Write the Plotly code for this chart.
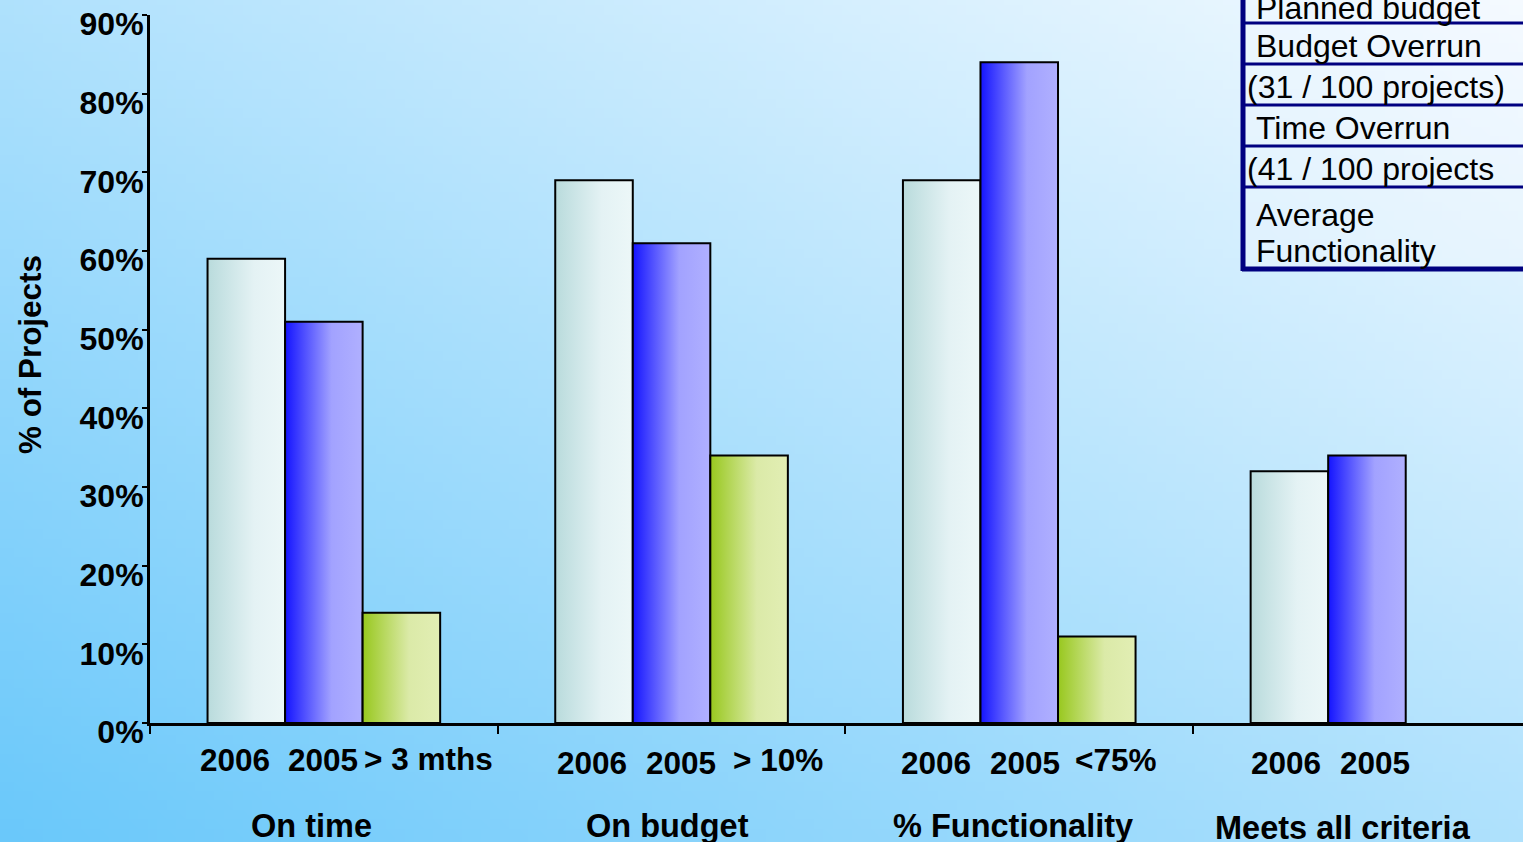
import base64, struct, zlib
import plotly.graph_objects as go

# ---------------- data ----------------
categories = ["On time", "On budget", "% Functionality", "Meets all criteria"]
series_names = ["2006", "2005", "third"]
vals_2006 = [0.59, 0.69, 0.69, 0.32]
vals_2005 = [0.51, 0.61, 0.84, 0.34]
vals_third = [0.14, 0.34, 0.11, None]
third_labels = ["> 3 mths", "> 10%", "<75%", None]
y_ticks = [0, 0.1, 0.2, 0.3, 0.4, 0.5, 0.6, 0.7, 0.8, 0.9]
legend_lines = ["Planned budget", "Budget Overrun", "(31 / 100 projects)",
                "Time Overrun", "(41 / 100 projects", "Average", "Functionality"]

# ---------------- geometry / styles ----------------
W, H = 1523, 842
PL, PR, PT, PB = 150, 1523, 15, 723
GROUP_PX = 347.7
BAR_W = 0.223
FONT = "Liberation Sans, Arial, sans-serif"

def px(x):
    return (x - PL) / (PR - PL)

def py(y):
    return (PB - y) / (PB - PT)

scales = [
    [[0, "#b9dbdc"], [0.6, "#e4f2f4"], [1, "#ecf7f8"]],
    [[0, "#1414ff"], [0.6, "#a2a2ff"], [1, "#b0b0ff"]],
    [[0, "#98c81e"], [0.6, "#dbeaa8"], [1, "#e2eeb4"]],
]

# ---------------- background gradient png ----------------
def make_png(w, h, c0, c1):
    raw = bytearray()
    for j in range(h):
        raw.append(0)
        for i in range(w):
            t = 0.5 * (i / (w - 1)) + 0.5 * (1 - j / (h - 1))
            for a, b in zip(c0, c1):
                raw.append(int(round(a + (b - a) * t)))
    def chunk(tag, data):
        c = struct.pack(">I", len(data)) + tag + data
        return c + struct.pack(">I", zlib.crc32(tag + data) & 0xffffffff)
    png = b"\x89PNG\r\n\x1a\n"
    png += chunk(b"IHDR", struct.pack(">IIBBBBB", w, h, 8, 2, 0, 0, 0))
    png += chunk(b"IDAT", zlib.compress(bytes(raw), 9))
    png += chunk(b"IEND", b"")
    return "data:image/png;base64," + base64.b64encode(png).decode()

bg = make_png(160, 90, (106, 200, 250), (244, 250, 255))

fig = go.Figure()

all_vals = [vals_2006, vals_2005, vals_third]
for k, vals in enumerate(all_vals):
    for i, v in enumerate(vals):
        if v is None:
            continue
        xc = i + 0.5 + (k - 1) * BAR_W
        x0, x1 = xc - BAR_W / 2, xc + BAR_W / 2
        fig.add_trace(go.Scatter(
            x=[x0, x0, x1, x1, x0], y=[0, v, v, 0, 0],
            mode="lines", fill="toself",
            fillgradient=dict(type="horizontal", colorscale=scales[k], start=x0, stop=x1),
            line=dict(color="black", width=2),
            name=f"{categories[i]} {series_names[k]}", showlegend=False,
            hovertemplate=f"{categories[i]}<br>{series_names[k]}: %{{y:.0%}}<extra></extra>",
        ))

annotations = []
# year / threshold labels under bars
year_pos = [  # (x center px, y center px) for 2006, 2005, third
    [(235, 760), (323, 760), (428, 759)],
    [(592, 763), (681, 763), (778, 760)],
    [(936, 763), (1025, 763), (1115, 760)],
    [(1286, 763), (1375, 763), None],
]
cat_pos = [(311, 826), (667, 826), (1013, 826), (1343, 828)]
for i, cat in enumerate(categories):
    labels = ["2006", "2005", third_labels[i]]
    for k in range(3):
        if labels[k] is None:
            continue
        x, y = year_pos[i][k]
        annotations.append(dict(text=labels[k], x=px(x), y=py(y), xref="paper", yref="paper",
                                xanchor="center", yanchor="middle", showarrow=False,
                                font=dict(family=FONT, size=31.5, color="black", weight="bold")))
    x, y = cat_pos[i]
    annotations.append(dict(text=cat, x=px(x), y=py(y), xref="paper", yref="paper",
                            xanchor="center", yanchor="middle", showarrow=False,
                            font=dict(family=FONT, size=32.5, color="black", weight="bold")))

# y title
annotations.append(dict(text="% of Projects", x=px(30), y=py(355), xref="paper", yref="paper",
                        textangle=-90, xanchor="center", yanchor="middle", showarrow=False,
                        font=dict(family=FONT, size=31.4, color="black", weight="bold")))

# legend-like table
leg_pos = [(1254, 8), (1254, 46), (1245, 87), (1254, 128), (1245, 169), (1254, 215), (1254, 251)]
for t, (x, y) in zip(legend_lines, leg_pos):
    annotations.append(dict(text=t, x=px(x), y=py(y), xref="paper", yref="paper",
                            xanchor="left", yanchor="middle", showarrow=False,
                            font=dict(family=FONT, size=32, color="black")))

NAVY = "#000080"
shapes = [dict(type="rect", x0=px(1242), x1=px(1530), y0=py(268), y1=py(-10),
               xref="paper", yref="paper", line=dict(width=0), fillcolor="rgba(245,250,255,0.35)",
               layer="below")]
for y in [23, 64, 105, 146, 187]:
    shapes.append(dict(type="line", x0=px(1242), x1=px(1530), y0=py(y), y1=py(y),
                       xref="paper", yref="paper", line=dict(color=NAVY, width=3)))
shapes.append(dict(type="line", x0=px(1242), x1=px(1530), y0=py(269), y1=py(269),
                   xref="paper", yref="paper", line=dict(color=NAVY, width=5)))
shapes.append(dict(type="line", x0=px(1243), x1=px(1243), y0=py(271), y1=py(-10),
                   xref="paper", yref="paper", line=dict(color=NAVY, width=5)))

fig.update_layout(
    width=W, height=H,
    margin=dict(l=PL, r=W - PR, t=PT, b=H - PB),
    paper_bgcolor="#9fd8fb", plot_bgcolor="rgba(0,0,0,0)",
    showlegend=False,
    font=dict(family=FONT, color="black"),
    annotations=annotations, shapes=shapes,
    images=[dict(source=bg, xref="paper", yref="paper", x=px(0), y=py(0),
                 sizex=W / (PR - PL), sizey=H / (PB - PT), sizing="stretch",
                 xanchor="left", yanchor="top", layer="below")],
    xaxis=dict(range=[0, (PR - PL) / GROUP_PX], showline=True, linewidth=3, linecolor="black",
               ticks="outside", tickvals=[0, 1, 2, 3], ticklen=8, tickwidth=1.5, tickcolor="black",
               showticklabels=False, showgrid=False, zeroline=False, fixedrange=True),
    yaxis=dict(range=[0, 0.9], showline=True, linewidth=3, linecolor="black",
               ticks="outside", tickvals=y_ticks, tickformat=".0%", ticklen=5, tickwidth=1.5,
               tickcolor="black", ticklabelshift=9, ticklabelstandoff=-8,
               tickfont=dict(family=FONT, size=32, color="black", weight="bold"),
               showgrid=False, zeroline=False, fixedrange=True),
)

fig.write_html("out.html")
